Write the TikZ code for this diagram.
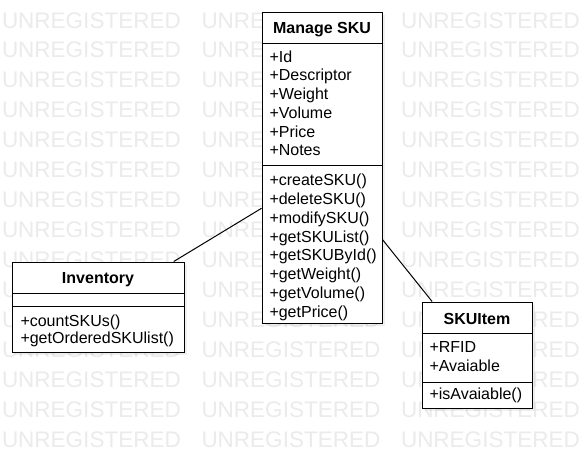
\documentclass[tikz,border=0pt]{standalone}
\usepackage{fontspec}
\setmainfont{Liberation Sans}
\usetikzlibrary{shadows}
\begin{document}
\begin{tikzpicture}[x=1pt,y=-1pt,line width=1pt,
  umlbox/.style={draw,fill=white,inner sep=0pt,drop shadow={shadow xshift=3pt,shadow yshift=-3pt,opacity=.12}},
  title/.style={font=\fontsize{16}{19}\selectfont\bfseries,inner sep=0pt,anchor=base},
  member/.style={font=\fontsize{16}{19}\selectfont,inner sep=0pt,anchor=base west},
  wmark/.style={font=\fontsize{22.5}{27}\selectfont,text=black!8,inner sep=0pt,anchor=base west}]
\useasboundingbox (0,0) rectangle (583,458);
\fill[white] (0,0) rectangle (583,458);
% watermark
\foreach \r in {0,...,14}
  \foreach \c in {0,1,2}
    \node[wmark] (wm\r\c) at (1.5+199.5*\c,28+29.93*\r) {UNREGISTERED};
% Manage SKU
\node[umlbox,minimum width=120,minimum height=311] (sku) at (322,167.5) {};
\draw (sku.west |- 0,43.3) -- (sku.east |- 0,43.3);
\draw (sku.west |- 0,165.5) -- (sku.east |- 0,165.5);
\node[title] (skut) at (322,33.8) {Manage SKU};
\foreach \t [count=\i from 0] in {+Id,+Descriptor,+Weight,+Volume,+Price,+Notes}
  \node[member] (skua\i) at (269,62+18.76*\i) {\t};
\foreach \t [count=\i from 0] in {+createSKU(),+deleteSKU(),+modifySKU(),+getSKUList(),+getSKUById(),+getWeight(),+getVolume(),+getPrice()}
  \node[member] (skum\i) at (269,185.7+18.8*\i) {\t};
% Inventory
\node[umlbox,minimum width=172,minimum height=90] (inv) at (98,307) {};
\draw (inv.west |- 0,293) -- (inv.east |- 0,293);
\draw (inv.west |- 0,306) -- (inv.east |- 0,306);
\node[title] (invt) at (98,283.3) {Inventory};
\node[member] (invm0) at (20,326) {+countSKUs()};
\node[member] (invm1) at (20,343) {+getOrderedSKUlist()};
% SKUItem
\node[umlbox,minimum width=110,minimum height=106] (item) at (477,355) {};
\draw (item.west |- 0,333) -- (item.east |- 0,333);
\draw (item.west |- 0,382) -- (item.east |- 0,382);
\node[title] (itemt) at (477,324) {SKUItem};
\node[member] (itema0) at (429,352.3) {+RFID};
\node[member] (itema1) at (429,371.1) {+Avaiable};
\node[member] (itemm0) at (429,399.7) {+isAvaiable()};
% associations
\draw (sku.214) -- (inv.31);
\draw (sku.-50) -- (item.130);
\end{tikzpicture}
\end{document}
